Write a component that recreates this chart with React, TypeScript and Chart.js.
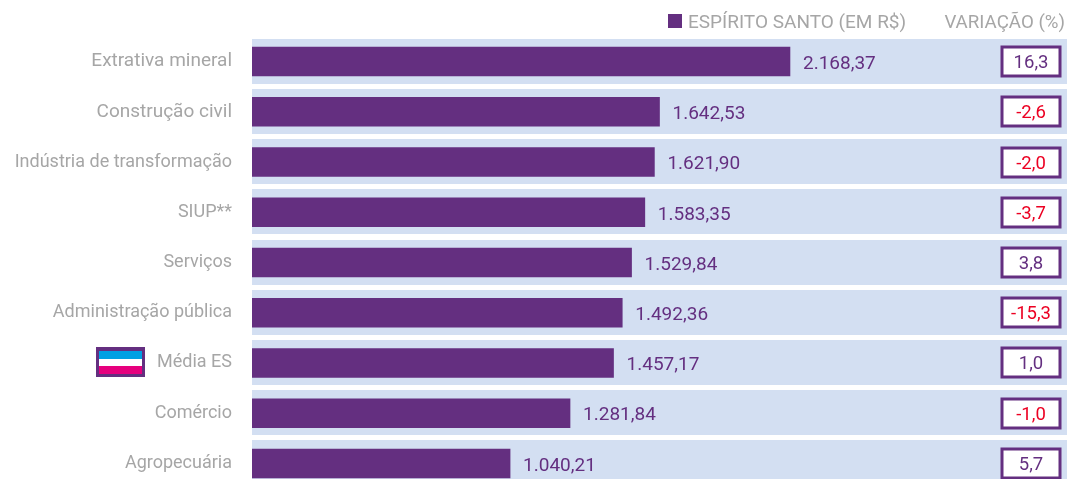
import React, { useEffect, useRef } from "react";
import { Chart, registerables } from "chart.js";

Chart.register(...registerables);

const categories = [
  "Extrativa mineral",
  "Construção civil",
  "Indústria de transformação",
  "SIUP**",
  "Serviços",
  "Administração pública",
  "Média ES",
  "Comércio",
  "Agropecuária",
];
const salaryValues = [2168.37, 1642.53, 1621.9, 1583.35, 1529.84, 1492.36, 1457.17, 1281.84, 1040.21];
const variationValues = [16.3, -2.6, -2.0, -3.7, 3.8, -15.3, 1.0, -1.0, 5.7];
const seriesName = "ESPÍRITO SANTO (EM R$)";
const variationTitle = "VARIAÇÃO (%)";
const flagRow = "Média ES";

const PURPLE = "#642f80";
const BAND = "#d3dff2";
const RED = "#ec0022";
const GREY = "#a6a6a6";
const FONT = "Roboto";

const fmt = (v: number, d: number) =>
  v.toLocaleString("pt-BR", { minimumFractionDigits: d, maximumFractionDigits: d });

const decorations = {
  id: "decorations",
  beforeDatasetsDraw(chart: any) {
    const { ctx, chartArea, scales } = chart;
    ctx.save();
    ctx.fillStyle = BAND;
    categories.forEach((_, i) => {
      const c = scales.y.getPixelForValue(i);
      ctx.fillRect(chartArea.left, Math.floor(c - 22.5), chartArea.right - chartArea.left, 45);
    });
    ctx.restore();
  },
  afterDatasetsDraw(chart: any) {
    const { ctx, scales } = chart;
    ctx.save();
    ctx.textBaseline = "middle";
    ctx.font = `19px ${FONT}`;

    salaryValues.forEach((v, i) => {
      const y = scales.y.getPixelForValue(i);
      ctx.fillStyle = PURPLE;
      ctx.textAlign = "left";
      ctx.fillText(fmt(v, 2), scales.x.getPixelForValue(v) + 13, y + 2.5);
    });

    ctx.font = `18.5px ${FONT}`;
    variationValues.forEach((v, i) => {
      const y = Math.floor(scales.y.getPixelForValue(i));
      ctx.fillStyle = "#ffffff";
      ctx.fillRect(1002, y - 14, 58, 28);
      ctx.strokeStyle = PURPLE;
      ctx.lineWidth = 3;
      ctx.strokeRect(1002, y - 14, 58, 29);
      ctx.fillStyle = v < 0 ? RED : PURPLE;
      ctx.textAlign = "center";
      ctx.fillText(fmt(v, 1), 1031, y + 2.5);
    });

    // legend + column title
    ctx.fillStyle = PURPLE;
    ctx.fillRect(668, 14, 14, 14);
    ctx.fillStyle = GREY;
    ctx.textAlign = "left";
    ctx.font = `19px ${FONT}`;
    ctx.fillText(seriesName, 688, 23);
    ctx.textAlign = "right";
    ctx.font = `18.7px ${FONT}`;
    ctx.fillText(variationTitle, 1065, 23);

    // flag beside the state average
    const fy = Math.round(scales.y.getPixelForValue(categories.indexOf(flagRow)));
    ctx.fillStyle = PURPLE;
    ctx.fillRect(96, fy - 16, 49, 30);
    ctx.fillStyle = "#00a0e3";
    ctx.fillRect(99, fy - 12, 43, 8);
    ctx.fillStyle = "#ffffff";
    ctx.fillRect(99, fy - 4, 43, 7);
    ctx.fillStyle = "#e6007e";
    ctx.fillRect(99, fy + 3, 43, 8);
    ctx.restore();
  },
};

export default function App() {
  const ref = useRef<HTMLCanvasElement>(null);

  useEffect(() => {
    document.body.style.margin = "0";
    const chart = new Chart(ref.current!, {
      type: "bar",
      data: {
        labels: categories,
        datasets: [
          {
            label: seriesName,
            data: salaryValues,
            backgroundColor: PURPLE,
            barThickness: 29,
          },
        ],
      },
      options: {
        indexAxis: "y",
        animation: false,
        responsive: false,
        layout: { padding: { top: 36.4, bottom: 11.4, left: 0, right: 0 } },
        plugins: { legend: { display: false }, tooltip: { enabled: false } },
        scales: {
          x: { display: false, min: 0, max: 3285 },
          y: {
            afterFit: (s: any) => {
              s.width = 252;
            },
            grid: { display: false, drawTicks: false },
            border: { display: false },
            ticks: {
              color: GREY,
              font: (c: any) => ({ family: FONT, size: c.index < 2 ? 19 : 18 }),
              padding: 20,
              labelOffset: 0,
              autoSkip: false,
            },
          },
        },
      },
      plugins: [decorations],
    } as any);
    return () => chart.destroy();
  }, []);

  return (
    <div style={{ width: 1067, height: 479, overflow: "hidden", position: "relative" }}>
      <canvas ref={ref} width={1067} height={520} style={{ display: "block" }} />
    </div>
  );
}
